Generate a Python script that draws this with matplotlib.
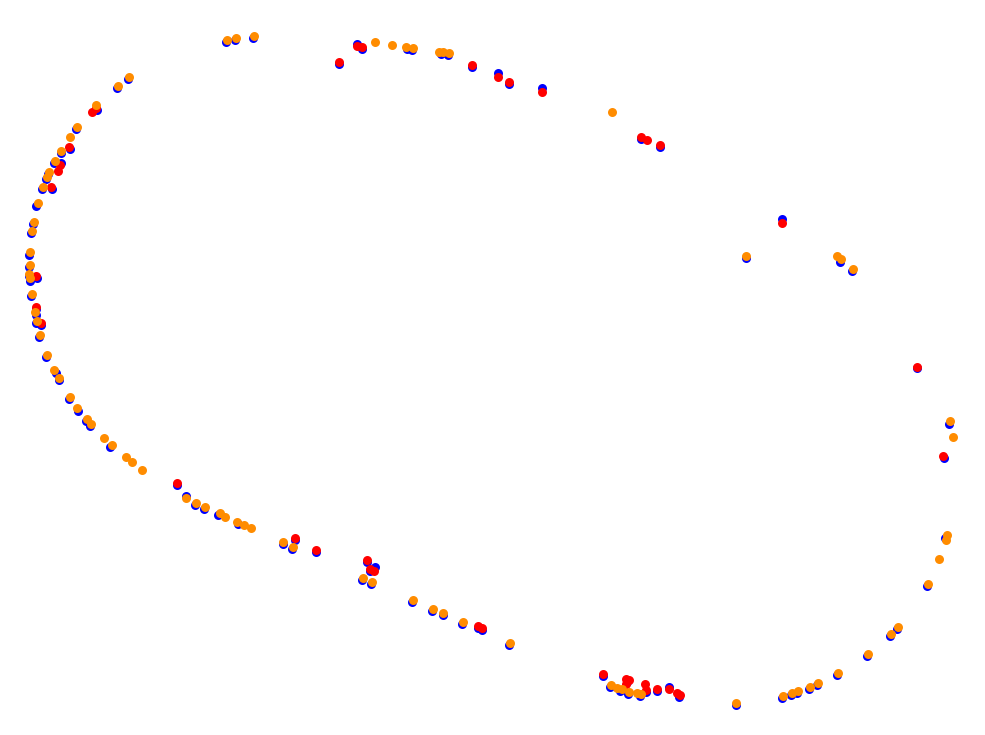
import matplotlib
matplotlib.use("Agg")
import matplotlib.pyplot as plt

# points (pixel-like units, y grows downward)
blue_x = [226, 235, 253, 128, 117, 97, 76, 61, 61, 54, 48, 46, 42, 36, 33, 31, 29, 29, 29, 30,
          31, 36, 36, 39, 46, 56, 59, 69, 78, 86, 90, 110, 186, 195, 204, 218, 238, 283, 292, 362,
          371, 412, 432, 443, 462, 509, 610, 620, 628, 640, 736, 782, 791, 797, 809, 817, 837, 867, 890, 897,
          927, 945, 949, 852, 840, 746, 448, 441, 412, 407, 70,
          177, 295, 316, 367, 375, 370, 478, 482, 603, 627, 669, 646, 657, 679, 944, 917, 782, 660, 641,
          542, 509, 498, 472, 357, 362, 339, 52, 37, 41, 36]
blue_y = [42, 40, 38, 79, 88, 110, 129, 153, 163, 163, 174, 179, 189, 206, 224, 233, 255, 267, 276, 281,
          296, 315, 323, 337, 357, 373, 380, 399, 411, 421, 426, 447, 496, 505, 509, 515, 524, 544, 549, 580,
          584, 602, 611, 615, 624, 645, 687, 691, 694, 696, 705, 698, 695, 693, 689, 685, 675, 656, 636, 629,
          586, 538, 424, 271, 262, 258, 55, 54, 50, 49, 149,
          485, 540, 552, 562, 567, 571, 628, 630, 676, 682, 687, 692, 691, 697, 458, 368, 219, 147, 139,
          88, 84, 73, 67, 44, 49, 64, 189, 278, 325, 309]

red_x = [96, 92, 69, 60, 58, 51, 36, 36, 41, 177, 295, 316, 367, 370, 374, 478, 482, 603, 626, 629,
         626, 645, 646, 657, 669, 677, 680, 943, 917, 782, 660, 641, 647, 542, 509, 498, 472, 362, 357, 339]
red_y = [108, 112, 147, 165, 171, 187, 276, 307, 323, 483, 538, 550, 560, 569, 571, 626, 628, 674, 679, 680,
         684, 684, 690, 689, 689, 693, 695, 456, 367, 223, 145, 137, 140, 92, 82, 77, 65, 47, 46, 62]

orange_x = [227, 236, 254, 129, 118, 96, 77, 70, 61, 55, 49, 47, 43, 38, 34, 32, 30, 30, 29, 30,
            32, 35, 37, 40, 47, 54, 59, 70, 77, 87, 91, 104, 112, 126, 132, 142, 186, 196, 205, 220,
            225, 237, 244, 251, 283, 293, 363, 372, 413, 433, 443, 463, 510, 611, 617, 622, 629, 637, 641, 736,
            783, 792, 798, 810, 818, 838, 868, 891, 898, 928, 939, 946, 947, 953, 950, 853, 841, 837, 746, 612,
            449, 443, 439, 413, 406, 392, 375]
orange_y = [40, 38, 36, 77, 86, 105, 127, 137, 151, 161, 172, 177, 187, 203, 222, 231, 252, 265, 274, 278,
            294, 312, 321, 335, 355, 370, 378, 397, 408, 419, 424, 438, 445, 457, 462, 470, 498, 503, 507, 513,
            517, 522, 525, 528, 542, 547, 578, 582, 600, 609, 613, 622, 643, 685, 688, 689, 692, 693, 694, 703,
            696, 693, 691, 687, 683, 673, 654, 634, 627, 584, 559, 540, 535, 437, 421, 269, 259, 256, 256, 112,
            53, 52, 52, 48, 47, 45, 42]

fig = plt.figure(figsize=(9.85, 7.35), dpi=100)
ax = fig.add_axes([0, 0, 1, 1])
ax.scatter(blue_x, blue_y, s=42, color="#0000ff", linewidths=0)
ax.scatter(red_x, red_y, s=42, color="#ff0000", linewidths=0)
ax.scatter(orange_x, orange_y, s=42, color="#ff8c00", linewidths=0)
ax.set_xlim(0, 985)
ax.set_ylim(735, 0)
ax.axis("off")
fig.savefig("out.png", dpi=100)
